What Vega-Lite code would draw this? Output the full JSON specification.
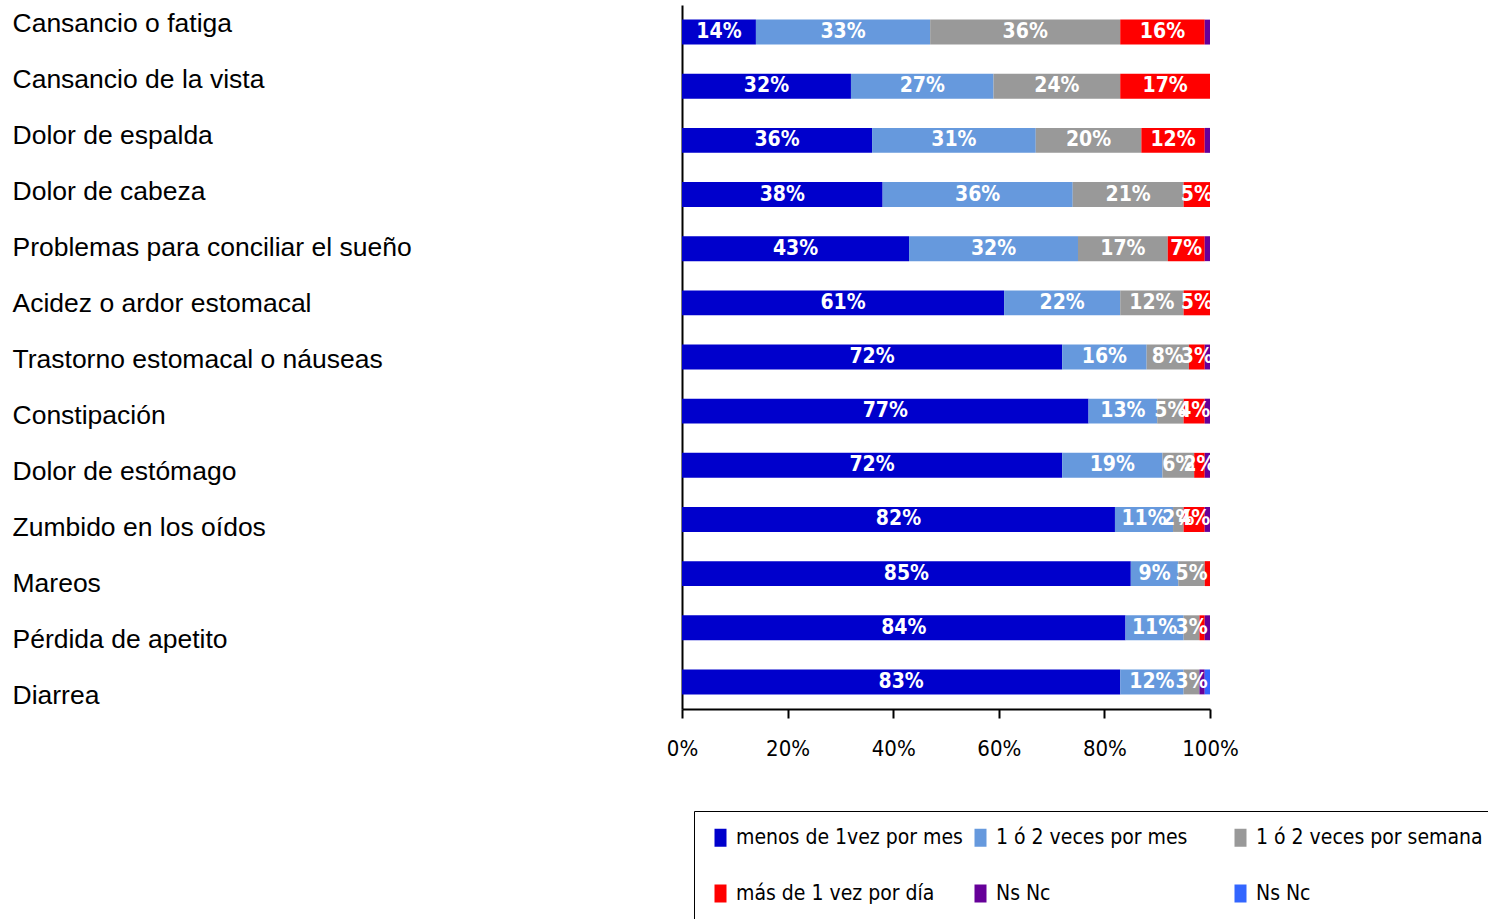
{
  "$schema": "https://vega.github.io/schema/vega-lite/v6.json",
  "width": 528,
  "height": 704,
  "autosize": {"type": "none"},
  "padding": {"left": 682, "top": 5, "right": 278, "bottom": 210},
  "background": "white",
  "config": {"view": {"stroke": null}, "font": "Liberation Sans"},
  "data": {"values": [
    {"s": "Cansancio o fatiga", "c": "menos de 1vez por mes", "v": 14},
    {"s": "Cansancio o fatiga", "c": "1 ó 2 veces por mes", "v": 33},
    {"s": "Cansancio o fatiga", "c": "1 ó 2 veces por semana", "v": 36},
    {"s": "Cansancio o fatiga", "c": "más de 1 vez por día", "v": 16},
    {"s": "Cansancio o fatiga", "c": "Ns Nc", "v": 1},
    {"s": "Cansancio de la vista", "c": "menos de 1vez por mes", "v": 32},
    {"s": "Cansancio de la vista", "c": "1 ó 2 veces por mes", "v": 27},
    {"s": "Cansancio de la vista", "c": "1 ó 2 veces por semana", "v": 24},
    {"s": "Cansancio de la vista", "c": "más de 1 vez por día", "v": 17},
    {"s": "Dolor de espalda", "c": "menos de 1vez por mes", "v": 36},
    {"s": "Dolor de espalda", "c": "1 ó 2 veces por mes", "v": 31},
    {"s": "Dolor de espalda", "c": "1 ó 2 veces por semana", "v": 20},
    {"s": "Dolor de espalda", "c": "más de 1 vez por día", "v": 12},
    {"s": "Dolor de espalda", "c": "Ns Nc", "v": 1},
    {"s": "Dolor de cabeza", "c": "menos de 1vez por mes", "v": 38},
    {"s": "Dolor de cabeza", "c": "1 ó 2 veces por mes", "v": 36},
    {"s": "Dolor de cabeza", "c": "1 ó 2 veces por semana", "v": 21},
    {"s": "Dolor de cabeza", "c": "más de 1 vez por día", "v": 5},
    {"s": "Problemas para conciliar el sueño", "c": "menos de 1vez por mes", "v": 43},
    {"s": "Problemas para conciliar el sueño", "c": "1 ó 2 veces por mes", "v": 32},
    {"s": "Problemas para conciliar el sueño", "c": "1 ó 2 veces por semana", "v": 17},
    {"s": "Problemas para conciliar el sueño", "c": "más de 1 vez por día", "v": 7},
    {"s": "Problemas para conciliar el sueño", "c": "Ns Nc", "v": 1},
    {"s": "Acidez o ardor estomacal", "c": "menos de 1vez por mes", "v": 61},
    {"s": "Acidez o ardor estomacal", "c": "1 ó 2 veces por mes", "v": 22},
    {"s": "Acidez o ardor estomacal", "c": "1 ó 2 veces por semana", "v": 12},
    {"s": "Acidez o ardor estomacal", "c": "más de 1 vez por día", "v": 5},
    {"s": "Trastorno estomacal o náuseas", "c": "menos de 1vez por mes", "v": 72},
    {"s": "Trastorno estomacal o náuseas", "c": "1 ó 2 veces por mes", "v": 16},
    {"s": "Trastorno estomacal o náuseas", "c": "1 ó 2 veces por semana", "v": 8},
    {"s": "Trastorno estomacal o náuseas", "c": "más de 1 vez por día", "v": 3},
    {"s": "Trastorno estomacal o náuseas", "c": "Ns Nc", "v": 1},
    {"s": "Constipación", "c": "menos de 1vez por mes", "v": 77},
    {"s": "Constipación", "c": "1 ó 2 veces por mes", "v": 13},
    {"s": "Constipación", "c": "1 ó 2 veces por semana", "v": 5},
    {"s": "Constipación", "c": "más de 1 vez por día", "v": 4},
    {"s": "Constipación", "c": "Ns Nc", "v": 1},
    {"s": "Dolor de estómago", "c": "menos de 1vez por mes", "v": 72},
    {"s": "Dolor de estómago", "c": "1 ó 2 veces por mes", "v": 19},
    {"s": "Dolor de estómago", "c": "1 ó 2 veces por semana", "v": 6},
    {"s": "Dolor de estómago", "c": "más de 1 vez por día", "v": 2},
    {"s": "Dolor de estómago", "c": "Ns Nc", "v": 1},
    {"s": "Zumbido en los oídos", "c": "menos de 1vez por mes", "v": 82},
    {"s": "Zumbido en los oídos", "c": "1 ó 2 veces por mes", "v": 11},
    {"s": "Zumbido en los oídos", "c": "1 ó 2 veces por semana", "v": 2},
    {"s": "Zumbido en los oídos", "c": "más de 1 vez por día", "v": 4},
    {"s": "Zumbido en los oídos", "c": "Ns Nc", "v": 1},
    {"s": "Mareos", "c": "menos de 1vez por mes", "v": 85},
    {"s": "Mareos", "c": "1 ó 2 veces por mes", "v": 9},
    {"s": "Mareos", "c": "1 ó 2 veces por semana", "v": 5},
    {"s": "Mareos", "c": "más de 1 vez por día", "v": 1},
    {"s": "Pérdida de apetito", "c": "menos de 1vez por mes", "v": 84},
    {"s": "Pérdida de apetito", "c": "1 ó 2 veces por mes", "v": 11},
    {"s": "Pérdida de apetito", "c": "1 ó 2 veces por semana", "v": 3},
    {"s": "Pérdida de apetito", "c": "más de 1 vez por día", "v": 1},
    {"s": "Pérdida de apetito", "c": "Ns Nc", "v": 1},
    {"s": "Diarrea", "c": "menos de 1vez por mes", "v": 83},
    {"s": "Diarrea", "c": "1 ó 2 veces por mes", "v": 12},
    {"s": "Diarrea", "c": "1 ó 2 veces por semana", "v": 3},
    {"s": "Diarrea", "c": "Ns Nc", "v": 1},
    {"s": "Diarrea", "c": "Ns Nc ", "v": 1}
  ]},
  "transform": [
    {"calculate": "indexof(['menos de 1vez por mes','1 ó 2 veces por mes','1 ó 2 veces por semana','más de 1 vez por día','Ns Nc','Ns Nc '], datum.c)", "as": "k"},
    {"stack": "v", "groupby": ["s"], "sort": [{"field": "k", "order": "ascending"}], "as": ["v0", "v1"]},
    {"calculate": "(datum.v0 + datum.v1) / 2", "as": "mid"}
  ],
  "encoding": {
    "y": {
      "field": "s",
      "type": "nominal",
      "sort": ["Cansancio o fatiga", "Cansancio de la vista", "Dolor de espalda", "Dolor de cabeza", "Problemas para conciliar el sueño", "Acidez o ardor estomacal", "Trastorno estomacal o náuseas", "Constipación", "Dolor de estómago", "Zumbido en los oídos", "Mareos", "Pérdida de apetito", "Diarrea"],
      "scale": {"paddingInner": 0.54, "paddingOuter": 0.27},
      "axis": {
        "title": null,
        "domain": true,
        "domainColor": "black",
        "domainWidth": 2,
        "ticks": false,
        "tickSize": 0,
        "labelAlign": "left",
        "labelBaseline": "middle",
        "labelPadding": 670,
        "labelFont": "Liberation Sans",
        "labelFontSize": 26.5,
        "labelColor": "black",
        "labelLimit": 0,
        "labelOffset": {"expr": "-8 + 22 * datum.index"}
      }
    }
  },
  "layer": [
    {
      "mark": {"type": "bar"},
      "encoding": {
        "x": {
          "field": "v0",
          "type": "quantitative",
          "scale": {"domain": [0, 100], "nice": false},
          "axis": {
            "title": null,
            "values": [0, 20, 40, 60, 80, 100],
            "labelExpr": "datum.value + '%'",
            "grid": false,
            "domainColor": "black",
            "domainWidth": 2,
            "tickColor": "black",
            "tickWidth": 2,
            "tickSize": 9,
            "labelFont": "DejaVu Sans Condensed, sans-serif",
            "labelFontSize": 22,
            "labelColor": "black",
            "labelPadding": 20,
            "labelFlush": false
          }
        },
        "x2": {"field": "v1"},
        "color": {
          "field": "c",
          "type": "nominal",
          "scale": {
            "domain": ["menos de 1vez por mes", "1 ó 2 veces por mes", "1 ó 2 veces por semana", "más de 1 vez por día", "Ns Nc", "Ns Nc "],
            "range": ["#0000CC", "#6699DD", "#999999", "#FF0000", "#660099", "#3366FF"]
          },
          "legend": {
            "orient": "none",
            "legendX": 12,
            "legendY": 806,
            "direction": "horizontal",
            "columns": 3,
            "gridAlign": "all",
            "columnPadding": 7,
            "rowPadding": 34,
            "padding": 16,
            "strokeColor": "black",
            "fillColor": "white",
            "title": null,
            "symbolType": "M-0.667,-1H0.667V1H-0.667Z",
            "symbolSize": 324,
            "symbolStrokeWidth": 0,
            "symbolOpacity": 1,
            "labelFont": "DejaVu Sans Condensed, sans-serif",
            "labelFontSize": 21,
            "labelColor": "black",
            "labelOffset": 5,
            "labelLimit": 0
          }
        }
      }
    },
    {
      "transform": [
        {"filter": "datum.v >= 2"},
        {"calculate": "datum.v + '%'", "as": "lbl"}
      ],
      "mark": {
        "type": "text",
        "clip": true,
        "color": "white",
        "font": "DejaVu Sans Condensed, sans-serif",
        "fontWeight": "bold",
        "fontSize": 21,
        "baseline": "middle",
        "align": "center"
      },
      "encoding": {
        "x": {"field": "mid", "type": "quantitative"},
        "text": {"field": "lbl"}
      }
    }
  ]
}
